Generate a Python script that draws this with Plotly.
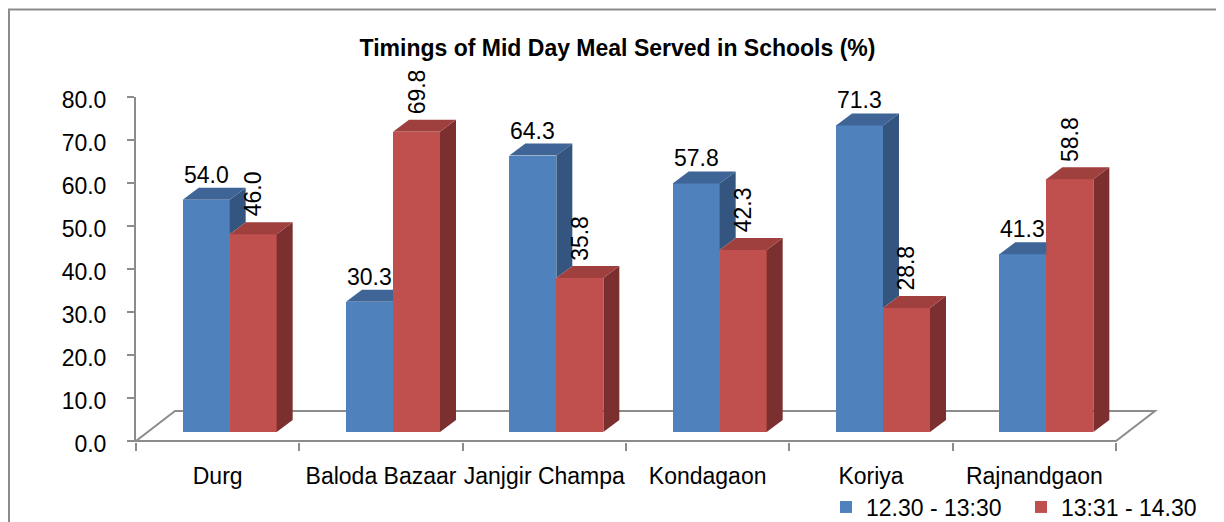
import plotly.graph_objects as go

# ---------------- data ----------------
categories = ["Durg", "Baloda Bazaar", "Janjgir Champa", "Kondagaon", "Koriya", "Rajnandgaon"]
series_names = ["12.30 - 13:30", "13:31 - 14.30"]
early_share = [54.0, 30.3, 64.3, 57.8, 71.3, 41.3]
late_share = [46.0, 69.8, 35.8, 42.3, 28.8, 58.8]
y_tick_values = [0, 10, 20, 30, 40, 50, 60, 70, 80]
chart_title = "Timings of Mid Day Meal Served in Schools (%)"

# ---------------- style / geometry ----------------
FONT = "Liberation Sans"
BLUE_FRONT, BLUE_TOP, BLUE_SIDE = "#4F81BD", "#3E6596", "#34557F"
RED_FRONT, RED_TOP, RED_SIDE = "#C0504D", "#9F403E", "#7B2F2E"
GRID_GRAY = "#8C8C8C"

# page has an 8px body margin, so the figure is placed at (8, 8)
W_PX, H_PX = 1216, 514
M_L, M_R, M_T, M_B = 128, 59, 89, 80
PLOT_W = W_PX - M_L - M_R
PLOT_H = H_PX - M_T - M_B
X_RANGE = [-0.5, 5.8]
Y_RANGE = [-0.25, 80]
px_x = PLOT_W / (X_RANGE[1] - X_RANGE[0])
px_y = PLOT_H / (Y_RANGE[1] - Y_RANGE[0])

BAR_W = 47 / px_x          # width of one bar (data units)
FRONT_DX = 12 / px_x       # bar front plane offset (depth)
FRONT_DY = 9 / px_y
DEPTH_DX = 16 / px_x       # bar depth
DEPTH_DY = 12 / px_y
FLOOR_DX = 39 / px_x       # floor depth
FLOOR_DY = 30 / px_y

n = len(categories)
idx = list(range(n))

fig = go.Figure()

blue_x = [i + FRONT_DX - BAR_W / 2 for i in idx]
red_x = [i + FRONT_DX + BAR_W / 2 for i in idx]


def side_poly(xr, lo, hi):
    return ([xr, xr + DEPTH_DX, xr + DEPTH_DX, xr, xr, None],
            [FRONT_DY + lo, FRONT_DY + lo + DEPTH_DY, FRONT_DY + hi + DEPTH_DY,
             FRONT_DY + hi, FRONT_DY + lo, None])


def top_poly(xl, xr, v, clip_right):
    t = FRONT_DY + v
    xb = xr if clip_right else xr + DEPTH_DX
    return ([xl, xl + DEPTH_DX, xb, xr, xl, None],
            [t, t + DEPTH_DY, t + DEPTH_DY, t, t, None])


bs_x, bs_y, bt_x, bt_y, rs_x, rs_y, rt_x, rt_y = [], [], [], [], [], [], [], []
for i in idx:
    vb, vr = early_share[i], late_share[i]
    bl = blue_x[i] - BAR_W / 2
    br = blue_x[i] + BAR_W / 2
    rr = red_x[i] + BAR_W / 2
    if vb > vr:
        a, b = side_poly(br, vr, vb)
        bs_x += a; bs_y += b
    a, b = top_poly(bl, br, vb, vr > vb)
    bt_x += a; bt_y += b
    a, b = side_poly(rr, 0, vr)
    rs_x += a; rs_y += b
    a, b = top_poly(br, rr, vr, False)
    rt_x += a; rt_y += b

fig.add_trace(go.Bar(x=blue_x, y=early_share, base=FRONT_DY, width=BAR_W,
                     name=series_names[0], marker=dict(color=BLUE_FRONT, line=dict(width=0)),
                     hoverinfo="skip"))
fig.add_trace(go.Bar(x=red_x, y=late_share, base=FRONT_DY, width=BAR_W,
                     name=series_names[1], marker=dict(color=RED_FRONT, line=dict(width=0)),
                     hoverinfo="skip"))

for xs, ys, col in [(bs_x, bs_y, BLUE_SIDE), (bt_x, bt_y, BLUE_TOP),
                    (rs_x, rs_y, RED_SIDE), (rt_x, rt_y, RED_TOP)]:
    fig.add_trace(go.Scatter(x=xs, y=ys, mode="lines", fill="toself", fillcolor=col,
                             line=dict(width=0, color=col), showlegend=False,
                             hoverinfo="skip"))

# --- data labels ---
annotations = []
for i in idx:
    vb, vr = early_share[i], late_share[i]
    annotations.append(dict(x=blue_x[i], y=FRONT_DY + vb + DEPTH_DY, xref="x", yref="y",
                            text=f"{vb:.1f}", showarrow=False, xanchor="center", yanchor="middle",
                            yshift=13, font=dict(family=FONT, size=23, color="#000000")))
    annotations.append(dict(x=red_x[i], y=FRONT_DY + vr + DEPTH_DY, xref="x", yref="y",
                            text=f"{vr:.1f}", showarrow=False, xanchor="center", yanchor="middle",
                            textangle=-90, yshift=28, font=dict(family=FONT, size=23, color="#000000")))

# --- floor and frame ---
floor_path = (f"M {X_RANGE[0]},0 L {X_RANGE[0] + FLOOR_DX},{FLOOR_DY} "
              f"L {n - 0.5 + FLOOR_DX},{FLOOR_DY} L {n - 0.5},0 Z")
shapes = [
    dict(type="path", path=floor_path, xref="x", yref="y", layer="below",
         line=dict(color=GRID_GRAY, width=2), fillcolor="rgba(0,0,0,0)"),
    dict(type="rect", xref="paper", yref="paper",
         x0=(1 - M_L) / PLOT_W, x1=1.2,
         y0=-0.5, y1=(H_PX - M_B - 1.5) / PLOT_H,
         line=dict(color=GRID_GRAY, width=2), fillcolor="rgba(0,0,0,0)", layer="below"),
]

fig.update_layout(
    width=W_PX, height=H_PX,
    margin=dict(l=M_L, r=M_R, t=M_T, b=M_B, pad=0, autoexpand=False),
    paper_bgcolor="white", plot_bgcolor="white",
    barmode="overlay", bargap=0,
    font=dict(family=FONT, size=23, color="#000000"),
    title=dict(text=f"<b>{chart_title}</b>", x=609.5 / W_PX, xanchor="center",
               y=1 - 39.5 / H_PX, yanchor="middle",
               font=dict(family=FONT, size=23, color="#000000")),
    xaxis=dict(range=X_RANGE, tickmode="array", tickvals=idx, ticktext=categories,
               showgrid=False, zeroline=False, showline=False, ticks="",
               ticklabelstandoff=18, automargin=False,
               minor=dict(tickmode="array", tickvals=[i - 0.5 for i in range(n + 1)],
                          ticks="outside", ticklen=8, tickwidth=2, tickcolor=GRID_GRAY,
                          showgrid=False),
               tickfont=dict(family=FONT, size=23, color="#000000"), fixedrange=True),
    yaxis=dict(range=Y_RANGE, tickmode="array", tickvals=y_tick_values,
               ticktext=[f"{v:.1f}" for v in y_tick_values],
               showgrid=False, zeroline=False, showline=True, linecolor=GRID_GRAY, linewidth=2,
               ticks="outside", ticklen=7, tickwidth=2, tickcolor=GRID_GRAY,
               ticklabelstandoff=16, ticklabelshift=3, automargin=False,
               tickfont=dict(family=FONT, size=23, color="#000000"), fixedrange=True),
    legend=dict(orientation="h", xref="container", yref="container",
                x=818 / W_PX, xanchor="left",
                y=1 - 499 / H_PX, yanchor="middle",
                font=dict(family=FONT, size=23, color="#000000"),
                bgcolor="rgba(0,0,0,0)", entrywidth=150, traceorder="normal"),
    annotations=annotations,
    shapes=shapes,
)

fig.write_html("out.html")
